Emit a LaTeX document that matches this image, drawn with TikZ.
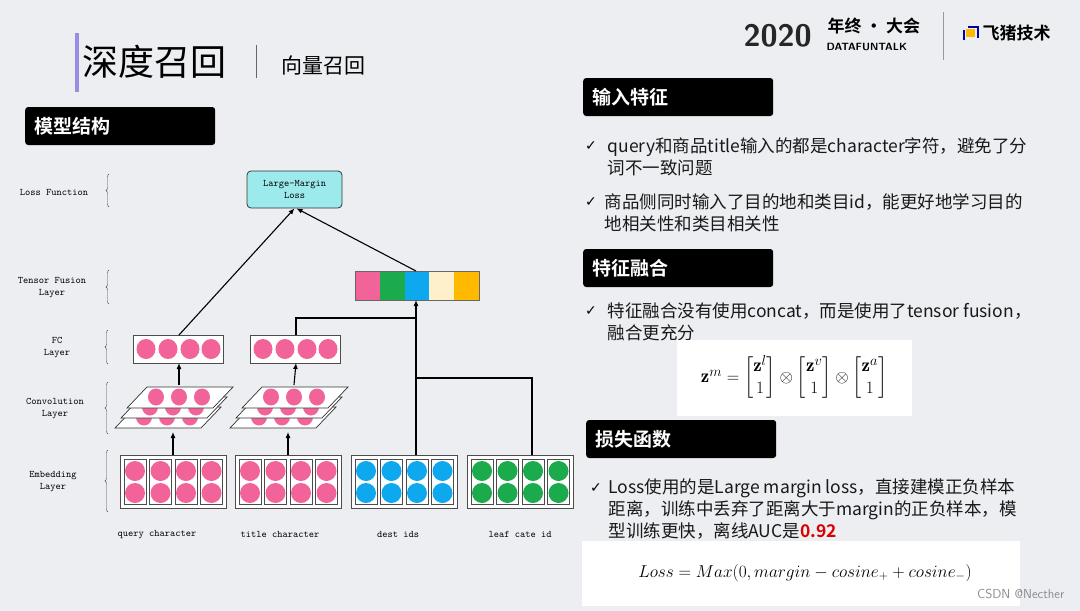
\documentclass[tikz,border=0pt]{standalone}
\usepackage{amsmath}
\usepackage{fontspec}
\newfontfamily\cjk{Noto Sans CJK SC}
\newfontfamily\cjkb{Noto Sans CJK SC Bold}
\newfontfamily\sym{DejaVu Sans}
\usetikzlibrary{decorations.pathreplacing,arrows.meta}
\definecolor{bg}{HTML}{EDEEF2}
\definecolor{pk}{HTML}{F2639A}
\definecolor{gn}{HTML}{1BAA4C}
\definecolor{bl}{HTML}{0DA8EE}
\definecolor{cr}{HTML}{FFF0CC}
\definecolor{og}{HTML}{FFBA00}
\definecolor{cy}{HTML}{9DEAEC}
\definecolor{pu}{HTML}{9A8CE0}
\tikzset{
 lbl/.style={font=\ttfamily\fontsize{10}{12}\selectfont,align=center},
 brc/.style={decorate,decoration={brace,amplitude=3pt,mirror},draw=black!70,line width=0.4pt},
 arr/.style={-{Latex[length=6pt,width=5pt]},line width=1.1pt},
 ln/.style={line width=1.1pt},
 hdr/.style={fill=black,rounded corners=3pt,text=white,font=\cjkb\fontsize{19}{20}\selectfont,anchor=west,inner xsep=9pt,text width=172pt,align=left},
 bt/.style={anchor=west,font=\cjk\fontsize{17.5}{22}\selectfont,align=left,text=black!90},
 ck/.style={anchor=center,font=\sym\fontsize{14}{14}\selectfont},
}
\begin{document}
\begin{tikzpicture}[x=1pt,y=-1pt]
\fill[bg] (0,0) rectangle (1080,611);
\useasboundingbox (0,0) rectangle (1080,611);
% title
\fill[pu] (75,33) rectangle (79,92);
\node[anchor=west,font=\cjk\fontsize{36}{38}\selectfont] (t1) at (79,62) {深度召回};
\draw[black!60,line width=0.8pt] (256,45) -- (256,78);
\node[anchor=west,font=\cjk\fontsize{21}{22}\selectfont] (t2) at (278,66) {向量召回};
% logo
\node[anchor=west,font=\sffamily\bfseries\fontsize{31}{31}\selectfont,text=black!85] (y20) at (740,36) {2020};
\node[anchor=west,font=\cjkb\fontsize{17}{17}\selectfont] (nz) at (824,26) {年终 · 大会};
\node[anchor=west,font=\sffamily\bfseries\fontsize{10.5}{11}\selectfont] (dft) at (823,47) {DATAFUNTALK};
\draw[black!40] (943,12) -- (943,60);
\fill[og] (966,29) rectangle (975,37);
\draw[blue!70!black,line width=2pt] (964,40) -- (964,30) (968,27) -- (978,27) -- (978,38);
\node[anchor=west,font=\cjkb\fontsize{17}{17}\selectfont] (fz) at (979,33) {飞猪技术};
% headers
\node[hdr,minimum height=38pt] (h0) at (25,126) {模型结构};
\node[hdr,minimum height=38pt] (h1) at (583,97) {输入特征};
\node[hdr,minimum height=38pt] (h2) at (583,268) {特征融合};
\node[hdr,minimum height=38pt] (h3) at (586,439) {损失函数};
% bullets
\node[ck] (c1) at (591,146) {✓};
\node[bt] (b1) at (604,157) {query和商品title输入的都是character字符，避免了分\\词不一致问题};
\node[ck] (c2) at (591,202) {✓};
\node[bt] (b2) at (601,213) {商品侧同时输入了目的地和类目id，能更好地学习目的\\地相关性和类目相关性};
\node[ck] (c3) at (591,311) {✓};
\node[bt] (b3) at (604,322) {特征融合没有使用concat，而是使用了tensor fusion，\\融合更充分};
\node[ck] (c4) at (596,488) {✓};
\node[bt] (b4) at (605,509) {Loss使用的是Large margin loss，直接建模正负样本\\距离，训练中丢弃了距离大于margin的正负样本，模\\型训练更快，离线AUC是{\cjkb\color{red!85!black}0.92}};
% formulas
\fill[white] (677,340) rectangle (912,416);
\node[font=\fontsize{19}{22}\selectfont] (f1) at (794,378) {$\mathbf{z}^m=\begin{bmatrix}\mathbf{z}^l\\1\end{bmatrix}\otimes\begin{bmatrix}\mathbf{z}^v\\1\end{bmatrix}\otimes\begin{bmatrix}\mathbf{z}^a\\1\end{bmatrix}$};
\fill[white] (582,541) rectangle (1020,606);
\node[font=\fontsize{18}{20}\selectfont] (f2) at (805,573) {$Loss=Max(0,margin-cosine_{+}+cosine_{-})$};
\node[anchor=east,font=\sffamily\fontsize{13}{13}\selectfont,text=black!45] (wm) at (1068,594) {CSDN @Necther};
% left labels
\node[lbl] (l1) at (54,192) {Loss Function};
\draw[brc] (109,174) -- (109,207);
\node[lbl] (l2) at (52,288) {Tensor Fusion\\Layer};
\draw[brc] (109,270) -- (109,304);
\node[lbl] (l3) at (57,348) {FC\\Layer};
\draw[brc] (108,330) -- (108,364);
\node[lbl] (l4) at (55,409) {Convolution\\Layer};
\draw[brc] (108,382) -- (108,434);
\node[lbl] (l5) at (53,482) {Embedding\\Layer};
\draw[brc] (108,450) -- (108,512);
% loss box
\node[draw=black!80,fill=cy,rounded corners=4pt,line width=0.8pt,minimum width=95pt,minimum height=37pt,lbl] (loss) at (294.5,189.5) {Large-Margin\\Loss};
% fusion bar
\foreach \c [count=\i from 0] in {pk,gn,bl,cr,og}{\fill[\c] (355+\i*24.8,271) rectangle ++(24.8,29);}
\draw[black!60] (355,271) rectangle (479,300);
\coordinate (fus) at (416,300);
\coordinate (fust) at (416,271);
% FC
\foreach \x/\n in {133/fcA,250/fcB}{
 \draw[black!70,fill=white,line width=0.8pt] (\x,335) rectangle (\x+90,363);
 \foreach \k in {0,1,2}{\fill[pk] (\x+13+\k*22,349) ellipse (9.5pt and 10pt);}
 \fill[pk] (\x+78,349) ellipse (9.5pt and 10pt);
 \coordinate (\n t) at (\x+46,335);
 \coordinate (\n b) at (\x+46,363);
}
% conv
\foreach \dx/\n in {0/cvA,115/cvB}{
 \foreach \j in {2,1,0}{
  \draw[black!80,fill=white,line width=0.7pt] (127+\dx-6*\j,408+10*\j) -- (147+\dx-6*\j,387+10*\j) -- (233+\dx-6*\j,387+10*\j) -- (213+\dx-6*\j,408+10*\j) -- cycle;
  \foreach \k in {0,1,2}{\fill[pk] (156+\dx+23*\k-6*\j,397+10*\j) ellipse (8pt and 8.5pt);}
 }
 \coordinate (\n t) at (179+\dx,385);
 \coordinate (\n b) at (173+\dx,432);
}
% embeddings
\foreach \x/\c/\n in {120/pk/eA,235/pk/eB,351/bl/eC,467/gn/eD}{
 \draw[black!70,fill=white,line width=0.7pt] (\x,455) rectangle (\x+106,508);
 \foreach \k in {0,1,2,3}{
  \draw[black!70,line width=0.7pt] (\x+4+\k*25.5,459) rectangle ++(22,45);
  \fill[\c] (\x+15+\k*25.5,471) circle (10pt);
  \fill[\c] (\x+15+\k*25.5,493) circle (10pt);
 }
}
\coordinate (eAt) at (173,455); \coordinate (eBt) at (288,455);
\coordinate (eCt) at (416,455); \coordinate (eDt) at (532,455);
\node[lbl] (q1) at (157,535) {query character};
\node[lbl] (q2) at (280,534) {title character};
\node[lbl] (q3) at (398,534) {dest ids};
\node[lbl] (q4) at (520,534) {leaf cate id};
% connectors
\draw[arr] (eAt) -- (cvAb);
\draw[arr] (eBt) -- (cvBb);
\draw[arr] (cvAt) -- (fcAb);
\draw[arr] (cvBt) -- (fcBb);
\draw[arr] (fcAt) -- (loss.south);
\draw[arr] (fust) -- ([xshift=2pt]loss.south);
\draw[ln] (fcBt) |- (416,318);
\draw[arr] (eCt) -- (fus);
\draw[ln] (eDt) |- (416,378);
\end{tikzpicture}
\end{document}
